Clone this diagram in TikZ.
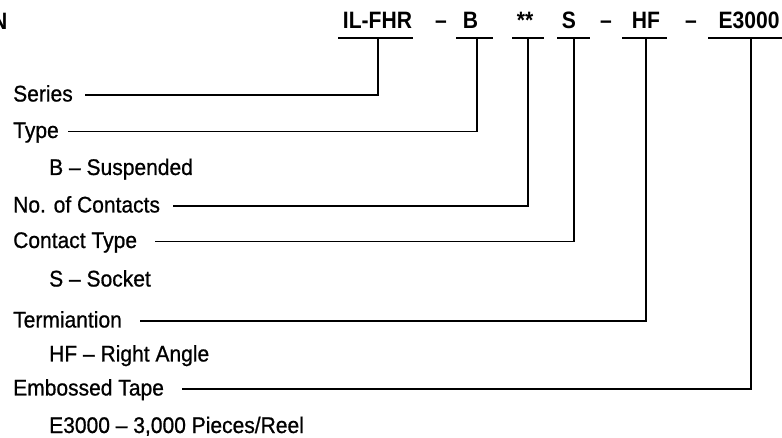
\documentclass[tikz,border=0pt]{standalone}
\usepackage{fontspec}
\setmainfont{Liberation Sans}
\newfontfamily\lblfont[FakeStretch=0.93,FakeBold=0.8]{Liberation Sans}
\newfontfamily\hdrfont[FakeStretch=0.89]{Liberation Sans}
\begin{document}
\begin{tikzpicture}[x=1pt,y=-1pt,
  lbl/.style={anchor=base west,inner sep=0pt,font=\lblfont\fontsize{22.6}{26}\selectfont},
  hdr/.style={anchor=base,inner sep=0pt,font=\hdrfont\fontsize{23.7}{27}\selectfont\bfseries},
  uline/.style={line width=2.6pt},
  conn/.style={line width=1.3pt}]
\useasboundingbox (0,0) rectangle (782,438);
% title fragment
\node[hdr,anchor=base east] (title) at (7.5,29.5) {N};
% header tokens
\node[hdr] (hSeries) at (377.5,29) {IL-FHR};
\node[hdr] (d1) at (441,29) {–};
\node[hdr] (hType) at (470.5,29) {B};
\node[hdr] (hCont) at (525,29) {**};
\node[hdr] (hCType) at (569,29) {S};
\node[hdr] (d2) at (606,29) {–};
\node[hdr] (hTerm) at (646,29) {HF};
\node[hdr] (d3) at (691,29) {–};
\node[hdr] (hTape) at (749,29) {E3000};
% underlines
\draw[uline] (338,38) -- (413,38);
\draw[uline] (456,38) -- (493,38);
\draw[uline] (512,38) -- (544,38);
\draw[uline] (557,38) -- (590,38);
\draw[uline] (622,38) -- (667,38);
\draw[uline] (708,38) -- (782,38);
\coordinate (uSeries) at (378,38);
\coordinate (uType) at (477,38);
\coordinate (uCont) at (528,38);
\coordinate (uCType) at (574,38);
\coordinate (uTerm) at (646,38);
\coordinate (uTape) at (751,38);
% labels
\node[lbl] (series) at (13,101.5) {Series};
\node[lbl] (type) at (13,138) {Type};
\node[lbl] (typeB) at (49,175) {B – Suspended};
\node[lbl] (contacts) at (13,212.5) {No. of Contacts};
\node[lbl] (ctype) at (13,248) {Contact Type};
\node[lbl] (ctypeS) at (49,286.5) {S – Socket};
\node[lbl] (term) at (13,327.5) {Termiantion};
\node[lbl] (termHF) at (49,361.5) {HF – Right Angle};
\node[lbl] (tape) at (13,395.5) {Embossed Tape};
\node[lbl] (tapeE) at (49,433) {E3000 – 3,000 Pieces/Reel};
% connector starts
\coordinate (sSeries) at (85,95);
\coordinate (sType) at (68,131.5);
\coordinate (sCont) at (173,206);
\coordinate (sCType) at (155,241.5);
\coordinate (sTerm) at (140,321);
\coordinate (sTape) at (182,389);
% connectors
\draw[conn] (sSeries) -| (uSeries);
\draw[conn] (sType) -| (uType);
\draw[conn] (sCont) -| (uCont);
\draw[conn] (sCType) -| (uCType);
\draw[conn] (sTerm) -| (uTerm);
\draw[conn] (sTape) -| (uTape);
\end{tikzpicture}
\end{document}
